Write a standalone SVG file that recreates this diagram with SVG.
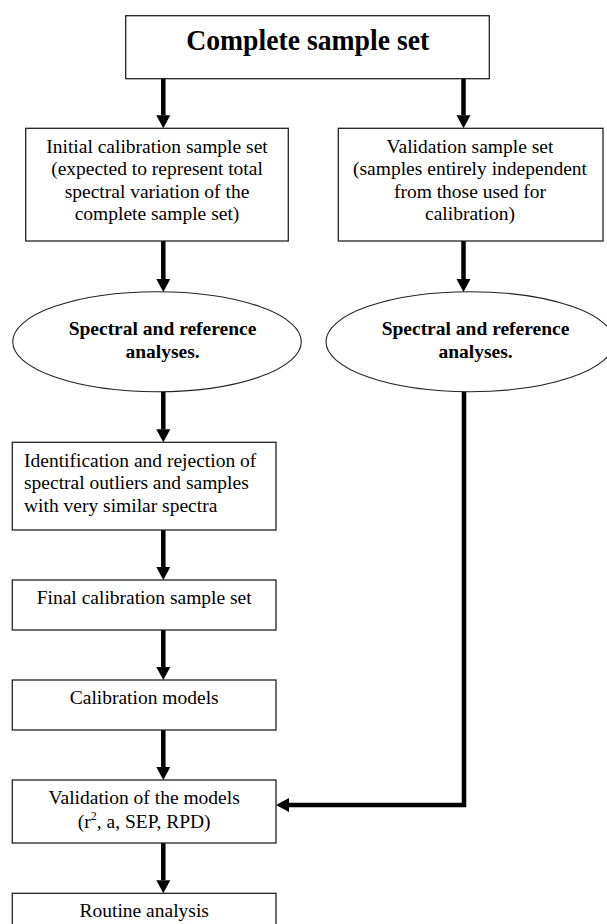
<svg xmlns="http://www.w3.org/2000/svg" width="607" height="924" viewBox="0 0 607 924">
<style>
.box{fill:#fff;stroke:#222;stroke-width:1.3}
.ell{fill:#fff;stroke:#222;stroke-width:1.1}
.t{font-family:"Liberation Serif","Times New Roman",serif;font-size:19.5px;fill:#000}
.c{text-anchor:middle}
.b{font-weight:bold}
.title{font-family:"Liberation Serif","Times New Roman",serif;font-size:29.5px;font-weight:bold;fill:#000;text-anchor:middle}
.con{fill:none;stroke:#000;stroke-width:4.5;stroke-linejoin:miter}
</style>
<defs>
<marker id="ah" markerUnits="userSpaceOnUse" markerWidth="14" markerHeight="14" refX="0" refY="7" orient="auto" overflow="visible">
<path d="M0,0 L13,7 L0,14 z" fill="#000"/>
</marker>
</defs>
<rect width="607" height="924" fill="#fff"/>
<g id="connectors">
<path class="con" d="M163.3,78.7 V115.3" marker-end="url(#ah)"/>
<path class="con" d="M463.5,78.7 V115.3" marker-end="url(#ah)"/>
<path class="con" d="M163.3,241 V279" marker-end="url(#ah)"/>
<path class="con" d="M463.5,241 V279" marker-end="url(#ah)"/>
<path class="con" d="M163.3,391.7 V429.3" marker-end="url(#ah)"/>
<path class="con" d="M163.3,530 V567" marker-end="url(#ah)"/>
<path class="con" d="M163.3,630 V667" marker-end="url(#ah)"/>
<path class="con" d="M163.3,730 V767" marker-end="url(#ah)"/>
<path class="con" d="M163.3,843 V880.3" marker-end="url(#ah)"/>
<path class="con" d="M464,391.7 V805 H289" marker-end="url(#ah)"/>
</g>
<g id="complete">
<rect class="box" x="125.7" y="15.7" width="363.6" height="63"/>
<text class="title" x="307.7" y="49.5" textLength="243" lengthAdjust="spacingAndGlyphs">Complete sample set</text>
</g>
<g id="initial">
<rect class="box" x="25.7" y="128.3" width="262.6" height="112.7"/>
<text class="t c" x="157" y="152.5">Initial calibration sample set</text>
<text class="t c" x="157" y="175">(expected to represent total</text>
<text class="t c" x="157" y="197.5">spectral variation of the</text>
<text class="t c" x="157" y="220">complete sample set)</text>
</g>
<g id="validationset">
<rect class="box" x="338.3" y="128.3" width="264.7" height="112.7"/>
<text class="t c" x="470" y="152.5">Validation sample set</text>
<text class="t c" x="470" y="175">(samples entirely independent</text>
<text class="t c" x="470" y="197.5">from those used for</text>
<text class="t c" x="470" y="220">calibration)</text>
</g>
<g id="analysesL">
<ellipse class="ell" cx="157" cy="341.7" rx="144.3" ry="50"/>
<text class="t c b" x="162.5" y="335">Spectral and reference</text>
<text class="t c b" x="162.5" y="357.5">analyses.</text>
</g>
<g id="analysesR">
<ellipse class="ell" cx="470" cy="341.7" rx="144" ry="50"/>
<text class="t c b" x="475.5" y="335">Spectral and reference</text>
<text class="t c b" x="475.5" y="357.5">analyses.</text>
</g>
<g id="identification">
<rect class="box" x="12.3" y="442.3" width="263.7" height="87.7"/>
<text class="t" x="24" y="466.5">Identification and rejection of</text>
<text class="t" x="24" y="489">spectral outliers and samples</text>
<text class="t" x="24" y="511.5">with very similar spectra</text>
</g>
<g id="finalset">
<rect class="box" x="12.3" y="580" width="263.7" height="50"/>
<text class="t c" x="144.2" y="603.5">Final calibration sample set</text>
</g>
<g id="models">
<rect class="box" x="12.3" y="680" width="263.7" height="50"/>
<text class="t c" x="144.2" y="703.5">Calibration models</text>
</g>
<g id="validation">
<rect class="box" x="12.3" y="780" width="263.7" height="63"/>
<text class="t c" x="144.2" y="804">Validation of the models</text>
<text class="t c" x="144.2" y="827.5">(r<tspan font-size="12" dy="-8">2</tspan><tspan dy="8">, a, SEP, RPD)</tspan></text>
</g>
<g id="routine">
<rect class="box" x="12.3" y="893.3" width="263.7" height="50"/>
<text class="t c" x="144.2" y="916.5">Routine analysis</text>
</g>
</svg>
